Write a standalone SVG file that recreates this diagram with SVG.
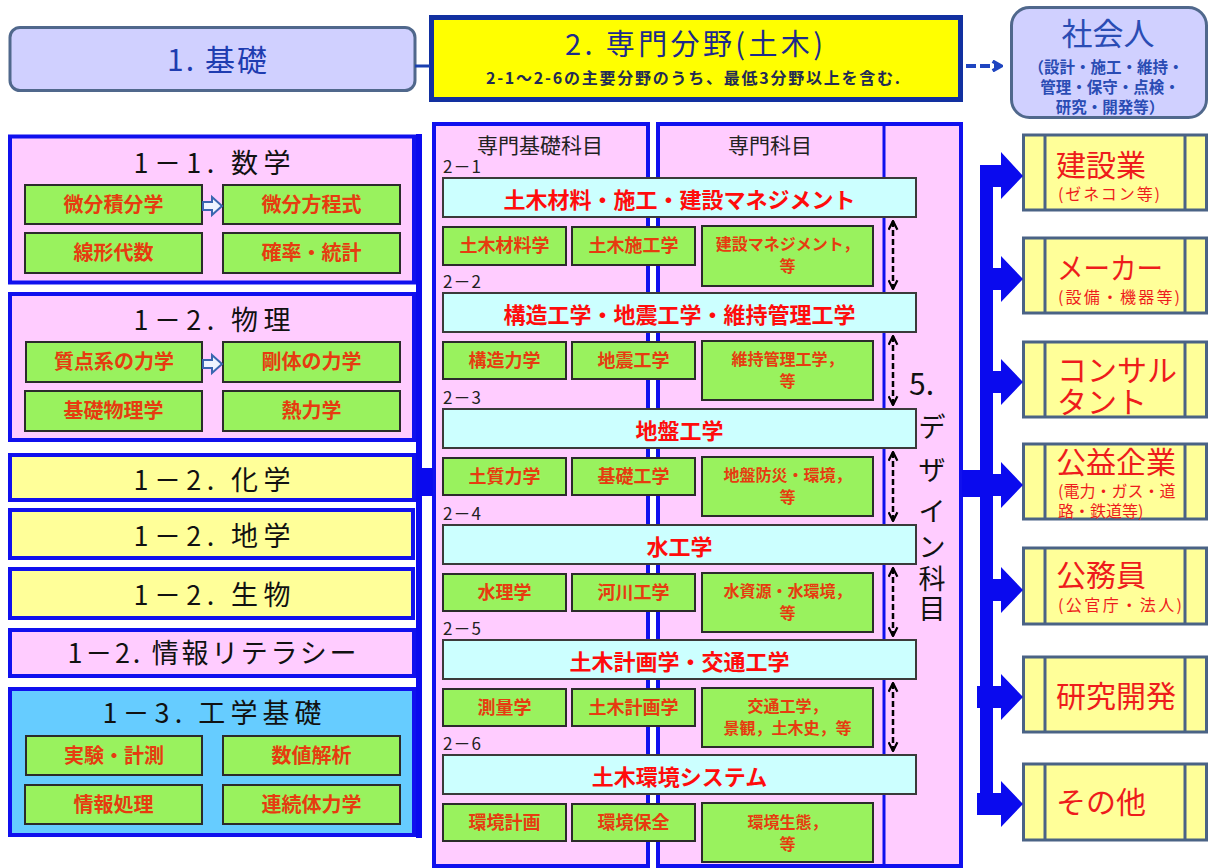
<svg xmlns="http://www.w3.org/2000/svg" width="1211" height="868" viewBox="0 0 1211 868">
<defs>
<style>
text { font-family: "Noto Sans CJK JP", "Noto Sans", sans-serif; }
.bb { stroke: #1010ee; stroke-width: 4; }
.pink { fill: #ffccff; }
.ly { fill: #ffff99; }
.lb { fill: #66ccff; }
.t1 { font-size: 27px; fill: #111; text-anchor: middle; }
.g { fill: #99f25e; stroke: #2b2b2b; stroke-width: 2; }
.gt { font-size: 20px; font-weight: 700; fill: #e63c10; text-anchor: middle; }
.mt { font-size: 18px; font-weight: 700; fill: #e63c10; text-anchor: middle; }
.mt2 { font-size: 16px; font-weight: 700; fill: #e63c10; text-anchor: middle; }
.bar { fill: #ccffff; stroke: #3a3a3a; stroke-width: 2; }
.bt { font-size: 22px; font-weight: 700; fill: #ff0c0c; text-anchor: middle; }
.lbl { font-size: 17px; fill: #222; letter-spacing: 1px; }
.hd { font-size: 21px; fill: #222; text-anchor: middle; }
.rb { fill: #ffff99; stroke: #4a6385; stroke-width: 3; }
.rl { stroke: #4a6385; stroke-width: 3; }
.rt { font-size: 30px; fill: #ee1c1c; }
.rs { font-size: 16px; fill: #ee1c1c; }
.ds { font-size: 27px; fill: #111; text-anchor: middle; }
.conn { fill: #0a0aee; }
.lav { fill: #d0d0ff; stroke: #50688c; stroke-width: 3; }
.lavt { fill: #2a4cb4; text-anchor: middle; }
.dd { stroke: #000; stroke-width: 2.5; stroke-dasharray: 6 3; fill: none; marker-start: url(#chev); marker-end: url(#chev); }
.ha { fill: #eef4ff; stroke: #3a66b0; stroke-width: 2; }
</style>
<marker id="chev" viewBox="0 0 10 10" refX="9" refY="5" markerWidth="11" markerHeight="11" markerUnits="userSpaceOnUse" orient="auto-start-reverse">
<path d="M1,1 L9,5 L1,9" fill="none" stroke="#000" stroke-width="2"/>
</marker>
<marker id="chevB" viewBox="0 0 10 10" refX="8" refY="5" markerWidth="12" markerHeight="12" markerUnits="userSpaceOnUse" orient="auto">
<path d="M1,1 L8,5 L1,9" fill="none" stroke="#1f45c0" stroke-width="3"/>
</marker>
</defs>
<rect x="0" y="0" width="1211" height="868" fill="#ffffff"/>

<!-- top row -->
<g id="n-kiso">
<rect class="lav" x="10" y="27.5" width="405" height="63" rx="10"/>
<text x="217" y="71" font-size="30" fill="#1e3cb0" text-anchor="middle" textLength="100" lengthAdjust="spacing">1. 基礎</text>
</g>
<g id="n-senmon">
<rect x="431.5" y="17.5" width="529" height="82" fill="#ffff00" stroke="#1230a0" stroke-width="5"/>
<text x="694" y="55" font-size="29" fill="#1c2a8c" text-anchor="middle" textLength="258" lengthAdjust="spacing">2. 専門分野(土木)</text>
<text x="693" y="84" font-size="16" font-weight="700" fill="#222a55" text-anchor="middle" textLength="414" lengthAdjust="spacing">2-1～2-6の主要分野のうち、最低3分野以上を含む.</text>
</g>
<g id="n-shakaijin">
<rect class="lav" x="1011.5" y="7.5" width="195" height="110" rx="18"/>
<text class="lavt" x="1108" y="45" font-size="31">社会人</text>
<text class="lavt" font-size="15.5" font-weight="700"><tspan x="1106" y="73">（設計・施工・維持・</tspan><tspan x="1110" y="93">管理・保守・点検・</tspan><tspan x="1110" y="113">研究・開発等）</tspan></text>
</g>

<!-- left column -->
<g id="n-sugaku">
<rect class="pink bb" x="10" y="136.5" width="404" height="146"/>
<text class="t1" x="212" y="173" textLength="157" lengthAdjust="spacing">1－1. 数学</text>
<rect class="g" x="25" y="185" width="177" height="39"/>
<text class="gt" x="113.5" y="212">微分積分学</text>
<rect class="g" x="223" y="185" width="177" height="39"/>
<text class="gt" x="311.5" y="212">微分方程式</text>
<rect class="g" x="25" y="233" width="177" height="40"/>
<text class="gt" x="113.5" y="260">線形代数</text>
<rect class="g" x="223" y="233" width="177" height="40"/>
<text class="gt" x="311.5" y="260">確率・統計</text>
</g>
<g id="n-butsuri">
<rect class="pink bb" x="10" y="294" width="404" height="146"/>
<text class="t1" x="212" y="330" textLength="157" lengthAdjust="spacing">1－2. 物理</text>
<rect class="g" x="26" y="342" width="176" height="40"/>
<text class="gt" x="114" y="369">質点系の力学</text>
<rect class="g" x="223" y="342" width="177" height="40"/>
<text class="gt" x="311.5" y="369">剛体の力学</text>
<rect class="g" x="25" y="391" width="177" height="40"/>
<text class="gt" x="113.5" y="418">基礎物理学</text>
<rect class="g" x="223" y="391" width="177" height="40"/>
<text class="gt" x="311.5" y="418">熱力学</text>
</g>
<g id="n-kagaku">
<rect class="ly bb" x="10" y="455" width="404" height="45"/>
<text class="t1" x="212" y="490" textLength="157" lengthAdjust="spacing">1－2. 化学</text>
</g>
<g id="n-chigaku">
<rect class="ly bb" x="10" y="510" width="403" height="48"/>
<text class="t1" x="212" y="546" textLength="157" lengthAdjust="spacing">1－2. 地学</text>
</g>
<g id="n-seibutsu">
<rect class="ly bb" x="10" y="569" width="403" height="49"/>
<text class="t1" x="212" y="605" textLength="157" lengthAdjust="spacing">1－2. 生物</text>
</g>
<g id="n-joho">
<rect class="pink bb" x="10" y="630" width="404" height="46"/>
<text class="t1" x="212" y="663" textLength="289" lengthAdjust="spacing">1－2. 情報リテラシー</text>
</g>
<g id="n-kogaku">
<rect class="lb bb" x="10" y="689" width="404" height="146"/>
<text class="t1" x="212" y="723" textLength="219" lengthAdjust="spacing">1－3. 工学基礎</text>
<rect class="g" x="26" y="736" width="176" height="39"/>
<text class="gt" x="114" y="763">実験・計測</text>
<rect class="g" x="223" y="736" width="177" height="39"/>
<text class="gt" x="311.5" y="763">数値解析</text>
<rect class="g" x="25" y="785" width="177" height="39"/>
<text class="gt" x="113.5" y="812">情報処理</text>
<rect class="g" x="223" y="785" width="177" height="39"/>
<text class="gt" x="311.5" y="812">連続体力学</text>
</g>

<!-- middle panels -->
<g id="n-kiso-kamoku">
<rect class="pink bb" x="434" y="124" width="214" height="742"/>
<text class="hd" x="540" y="153">専門基礎科目</text>
</g>
<g id="n-senmon-kamoku">
<rect class="pink bb" x="658" y="124" width="303" height="742"/>
<line x1="884" y1="124" x2="884" y2="866" stroke="#1010ee" stroke-width="3"/>
<text class="hd" x="770" y="153">専門科目</text>
</g>

<g id="n-2-1">
<text class="lbl" x="443" y="173">2－1</text>
<rect class="bar" x="443" y="178" width="473" height="39"/>
<text class="bt" x="679.5" y="208">土木材料・施工・建設マネジメント</text>
<rect class="g" x="443" y="227" width="123" height="38"/>
<text class="mt" x="504.5" y="252">土木材料学</text>
<rect class="g" x="572" y="227" width="123" height="38"/>
<text class="mt" x="633.5" y="252">土木施工学</text>
<rect class="g" x="702" y="226" width="171" height="60"/>
<text class="mt2"><tspan x="787.5" y="250">建設マネジメント，</tspan><tspan x="787.5" y="272">等</tspan></text>
</g>
<g id="n-2-2">
<text class="lbl" x="443" y="288">2－2</text>
<rect class="bar" x="443" y="293" width="473" height="39"/>
<text class="bt" x="679.5" y="323">構造工学・地震工学・維持管理工学</text>
<rect class="g" x="443" y="342" width="123" height="37"/>
<text class="mt" x="504.5" y="367">構造力学</text>
<rect class="g" x="572" y="342" width="123" height="37"/>
<text class="mt" x="633.5" y="367">地震工学</text>
<rect class="g" x="702" y="341" width="171" height="59"/>
<text class="mt2"><tspan x="787.5" y="365">維持管理工学，</tspan><tspan x="787.5" y="387">等</tspan></text>
</g>
<g id="n-2-3">
<text class="lbl" x="443" y="404">2－3</text>
<rect class="bar" x="443" y="409" width="473" height="39"/>
<text class="bt" x="679.5" y="439">地盤工学</text>
<rect class="g" x="443" y="458" width="123" height="37"/>
<text class="mt" x="504.5" y="483">土質力学</text>
<rect class="g" x="572" y="458" width="123" height="37"/>
<text class="mt" x="633.5" y="483">基礎工学</text>
<rect class="g" x="702" y="457" width="171" height="59"/>
<text class="mt2"><tspan x="787.5" y="481">地盤防災・環境，</tspan><tspan x="787.5" y="503">等</tspan></text>
</g>
<g id="n-2-4">
<text class="lbl" x="443" y="520">2－4</text>
<rect class="bar" x="443" y="525" width="473" height="39"/>
<text class="bt" x="679.5" y="555">水工学</text>
<rect class="g" x="443" y="574" width="123" height="37"/>
<text class="mt" x="504.5" y="599">水理学</text>
<rect class="g" x="572" y="574" width="123" height="37"/>
<text class="mt" x="633.5" y="599">河川工学</text>
<rect class="g" x="702" y="573" width="171" height="59"/>
<text class="mt2"><tspan x="787.5" y="597">水資源・水環境，</tspan><tspan x="787.5" y="619">等</tspan></text>
</g>
<g id="n-2-5">
<text class="lbl" x="443" y="635">2－5</text>
<rect class="bar" x="443" y="640" width="473" height="39"/>
<text class="bt" x="679.5" y="670">土木計画学・交通工学</text>
<rect class="g" x="443" y="689" width="123" height="37"/>
<text class="mt" x="504.5" y="714">測量学</text>
<rect class="g" x="572" y="689" width="123" height="37"/>
<text class="mt" x="633.5" y="714">土木計画学</text>
<rect class="g" x="702" y="688" width="171" height="59"/>
<text class="mt2"><tspan x="787.5" y="712">交通工学，</tspan><tspan x="787.5" y="734">景観，土木史，等</tspan></text>
</g>
<g id="n-2-6">
<text class="lbl" x="443" y="750">2－6</text>
<rect class="bar" x="443" y="755" width="473" height="39"/>
<text class="bt" x="679.5" y="785">土木環境システム</text>
<rect class="g" x="443" y="804" width="123" height="37"/>
<text class="mt" x="504.5" y="829">環境計画</text>
<rect class="g" x="572" y="804" width="123" height="37"/>
<text class="mt" x="633.5" y="829">環境保全</text>
<rect class="g" x="702" y="803" width="171" height="59"/>
<text class="mt2"><tspan x="787.5" y="828">環境生態，</tspan><tspan x="787.5" y="850">等</tspan></text>
</g>

<g id="n-design">
<text x="909" y="395" font-size="30" fill="#111">5.</text>
<text class="ds"><tspan x="932" y="437">デ</tspan><tspan x="932" y="480">ザ</tspan><tspan x="932" y="521">イ</tspan><tspan x="932" y="557">ン</tspan><tspan x="932" y="589">科</tspan><tspan x="932" y="619">目</tspan></text>
</g>

<!-- right boxes -->
<g id="n-kensetsu">
<rect class="rb" x="1023.5" y="135" width="183" height="75"/>
<line class="rl" x1="1045" y1="135" x2="1045" y2="210"/><line class="rl" x1="1185" y1="135" x2="1185" y2="210"/>
<text class="rt" x="1056" y="176">建設業</text>
<text class="rs" x="1058" y="200" textLength="102" lengthAdjust="spacing">(ゼネコン等)</text>
</g>
<g id="n-maker">
<rect class="rb" x="1023.5" y="238" width="183" height="75"/>
<line class="rl" x1="1045" y1="238" x2="1045" y2="313"/><line class="rl" x1="1185" y1="238" x2="1185" y2="313"/>
<text class="rt" x="1057" y="279" textLength="106" lengthAdjust="spacingAndGlyphs">メーカー</text>
<text class="rs" x="1058" y="303" textLength="122" lengthAdjust="spacing">(設備・機器等)</text>
</g>
<g id="n-consul">
<rect class="rb" x="1023.5" y="342" width="183" height="75"/>
<line class="rl" x1="1045" y1="342" x2="1045" y2="417"/><line class="rl" x1="1185" y1="342" x2="1185" y2="417"/>
<text class="rt"><tspan x="1057" y="381">コンサル</tspan><tspan x="1057" y="413">タント</tspan></text>
</g>
<g id="n-koeki">
<rect class="rb" x="1023.5" y="444" width="183" height="75"/>
<line class="rl" x1="1045" y1="444" x2="1045" y2="519"/><line class="rl" x1="1185" y1="444" x2="1185" y2="519"/>
<text class="rt" x="1056" y="473">公益企業</text>
<text class="rs"><tspan x="1058" y="497">(電力・ガス・道</tspan><tspan x="1058" y="517">路・鉄道等)</tspan></text>
</g>
<g id="n-komuin">
<rect class="rb" x="1023.5" y="548" width="183" height="76"/>
<line class="rl" x1="1045" y1="548" x2="1045" y2="624"/><line class="rl" x1="1185" y1="548" x2="1185" y2="624"/>
<text class="rt" x="1056" y="586">公務員</text>
<text class="rs" x="1058" y="611" textLength="124" lengthAdjust="spacing">(公官庁・法人)</text>
</g>
<g id="n-kenkyu">
<rect class="rb" x="1023.5" y="657" width="183" height="75"/>
<line class="rl" x1="1045" y1="657" x2="1045" y2="732"/><line class="rl" x1="1185" y1="657" x2="1185" y2="732"/>
<text class="rt" x="1056" y="707">研究開発</text>
</g>
<g id="n-sonota">
<rect class="rb" x="1023.5" y="764" width="183" height="76"/>
<line class="rl" x1="1045" y1="764" x2="1045" y2="840"/><line class="rl" x1="1185" y1="764" x2="1185" y2="840"/>
<text class="rt" x="1056" y="813">その他</text>
</g>

<!-- connectors -->
<g id="connectors">
<line x1="415" y1="66" x2="430" y2="66" stroke="#1a40b0" stroke-width="3"/>
<line x1="966" y1="66" x2="1001" y2="66" stroke="#1f45c0" stroke-width="4" stroke-dasharray="10 4" marker-end="url(#chevB)"/>
<rect class="conn" x="416" y="134" width="6" height="704"/>
<rect class="conn" x="420" y="468" width="13" height="28"/>
<polygon class="ha" points="203,202 212,202 212,197 222,206 212,215 212,210 203,210"/>
<polygon class="ha" points="203,360 212,360 212,355 222,364 212,373 212,368 203,368"/>
<path class="dd" d="M893,221 V289"/>
<path class="dd" d="M893,336 V405"/>
<path class="dd" d="M893,452 V521"/>
<path class="dd" d="M893,568 V636"/>
<path class="dd" d="M893,683 V751"/>
<rect class="conn" x="962" y="470" width="28" height="27"/>
<rect class="conn" x="980" y="165" width="13" height="650"/>
<polygon class="conn" points="980,165 1001,165 1001,152 1023,176 1001,199 1001,187 980,187"/>
<polygon class="conn" points="980,268 1001,268 1001,256 1023,279 1001,302 1001,290 980,290"/>
<polygon class="conn" points="980,371 1001,371 1001,359 1023,382 1001,405 1001,393 980,393"/>
<polygon class="conn" points="980,474 1001,474 1001,462 1023,485 1001,508 1001,496 980,496"/>
<polygon class="conn" points="980,579 1001,579 1001,567 1023,590 1001,613 1001,601 980,601"/>
<polygon class="conn" points="977,686 1001,686 1001,674 1023,697 1001,720 1001,708 977,708"/>
<polygon class="conn" points="977,793 1001,793 1001,781 1023,804 1001,827 1001,815 977,815"/>
</g>
</svg>
